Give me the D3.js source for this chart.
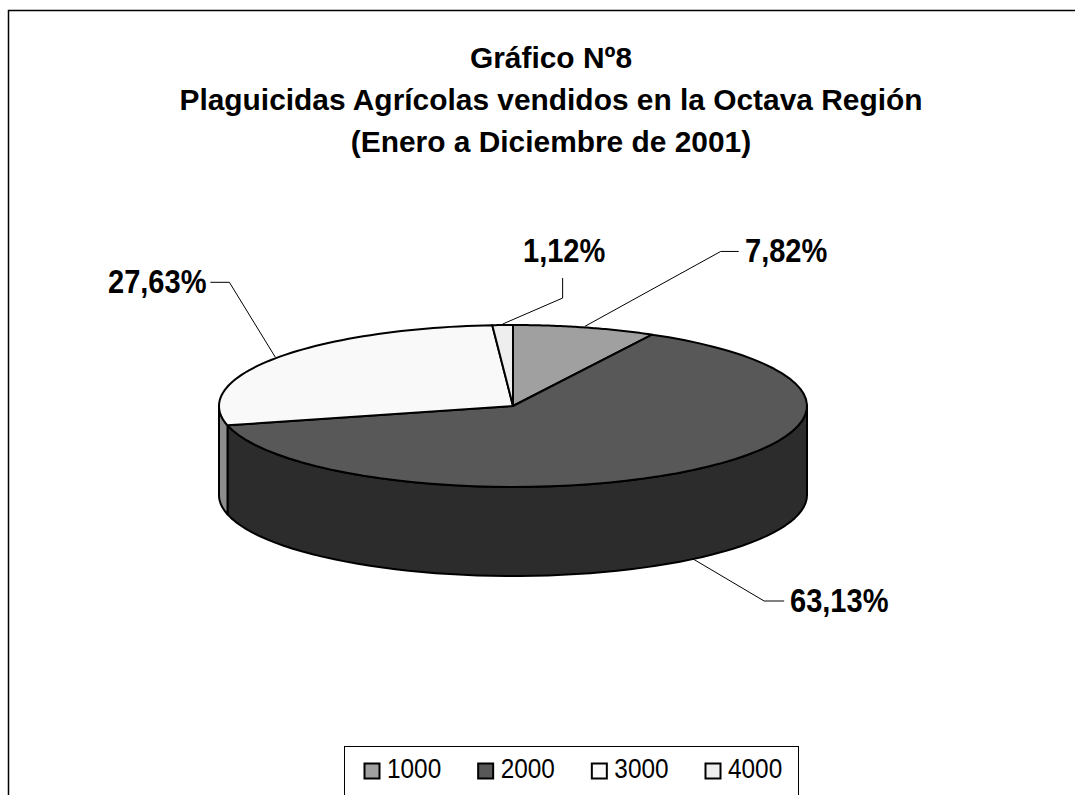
<!DOCTYPE html>
<html><head><meta charset="utf-8">
<script src="https://cdn.jsdelivr.net/npm/d3@7"></script>
<style>html,body{margin:0;padding:0;background:#fff}svg{display:block}text{font-family:"Liberation Sans",Arial,sans-serif;fill:#000}</style>
</head><body><svg id="c" width="1075" height="795"></svg>
<script>
const titleLines = ["Gráfico Nº8","Plaguicidas Agrícolas vendidos en la Octava Región","(Enero a Diciembre de 2001)"];
const categories = ["1000","2000","3000","4000"];
const shares = [7.82,63.13,27.63,1.12];
const shareLabels = ["7,82%","63,13%","27,63%","1,12%"];
const topColors = ["#a0a0a0","#585858","#f9f9f9","#eeeeee"];
const sideColors = ["#6e6e6e","#2c2c2c","#8c8c8c","#a0a0a0"];

const W=1075,H=795,cx=513,cy=406,rx=294,ry=81,depth=89;
const svg=d3.select("#c");
svg.append("path").attr("d","M8.5,795V10.5H1075").attr("fill","none").attr("stroke","#000").attr("stroke-width",1.5);

svg.selectAll("text.title").data(titleLines).join("text").attr("class","title")
  .attr("x",551).attr("y",(d,i)=>68+i*42).attr("text-anchor","middle")
  .attr("font-size",29.9).attr("font-weight",700).text(d=>d);

const arcs=d3.pie().sort(null).value(d=>d)(shares);
const px=d3.scaleLinear().domain([-1,1]).range([cx-rx,cx+rx]);
const py=d3.scaleLinear().domain([-1,1]).range([cy-ry,cy+ry]);
const X=a=>px(Math.sin(a)), Y=a=>py(-Math.cos(a));
const line=d3.line();
const samples=(a0,a1)=>d3.range(0,61).map(i=>a0+(a1-a0)*i/60);

const g=svg.append("g").attr("stroke","#000").attr("stroke-linejoin","round");
arcs.forEach((d,i)=>{
  const a0=Math.max(d.startAngle,Math.PI/2), a1=Math.min(d.endAngle,3*Math.PI/2);
  if(a1<=a0) return;
  const s=samples(a0,a1);
  const top=s.map(a=>[X(a),Y(a)]);
  const bot=s.slice().reverse().map(a=>[X(a),Y(a)+depth]);
  g.append("path").attr("d",line(top.concat(bot))+"Z").attr("fill",sideColors[i]).attr("stroke-width",2);
});
arcs.forEach((d,i)=>{
  const pts=[[cx,cy]].concat(samples(d.startAngle,d.endAngle).map(a=>[X(a),Y(a)]));
  g.append("path").attr("d",line(pts)+"Z").attr("fill",topColors[i]).attr("stroke-width",2);
});

const labelLayout=[
  {dx1:136,dy1:-75,dx2:154,tx:745,ty:262,side:0},
  {dx1:71,dy1:42,dx2:91,tx:790,ty:612,side:1},
  {dx1:-46,dy1:-75,dx2:-65,tx:108,ty:293,side:0},
  {dx1:60,dy1:-26,dx2:60,dy2:-46,tx:523,ty:262,side:0}
];
const lg=svg.append("g").attr("fill","none").attr("stroke","#000").attr("stroke-width",1);
arcs.forEach((d,i)=>{
  const l=labelLayout[i], m=(d.startAngle+d.endAngle)/2;
  const x0=X(m), y0=Y(m)+(l.side?depth:0)-(i===1?0:1);
  const pts=[[x0,y0],[x0+l.dx1,y0+l.dy1],[x0+l.dx2,y0+(l.dy2!==undefined?l.dy2:l.dy1)]];
  lg.append("path").attr("d",line(pts));
  svg.append("text").attr("transform",`translate(${l.tx},${l.ty}) scale(0.88,1)`)
    .attr("font-size",33).attr("font-weight",700).text(shareLabels[i]);
});

svg.append("rect").attr("x",344.5).attr("y",746.5).attr("width",454).attr("height",60).attr("fill","#fff").attr("stroke","#000");
const lx=d3.scalePoint().domain(categories).range([364,705]);
const items=svg.selectAll("g.leg").data(categories).join("g").attr("class","leg").attr("transform",d=>`translate(${lx(d)},0)`);
items.append("rect").attr("x",0.5).attr("y",763.5).attr("width",15).attr("height",15)
  .attr("fill",(d,i)=>topColors[i]).attr("stroke","#000").attr("stroke-width",2);
items.append("text").attr("transform","translate(23,778) scale(0.87,1)").attr("font-size",28).text(d=>d);
</script></body></html>
